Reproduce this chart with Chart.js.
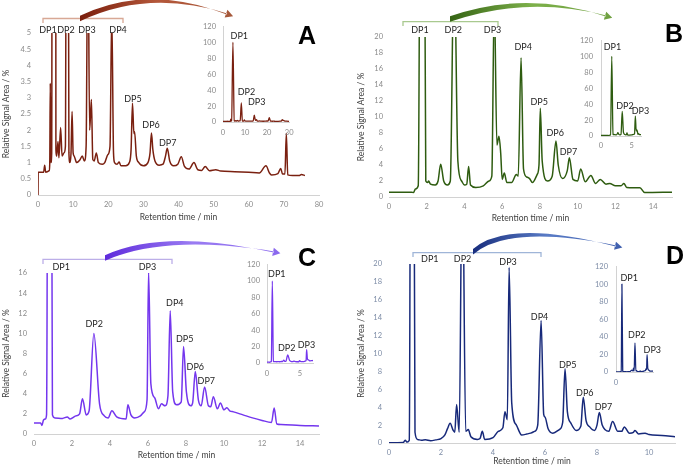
<!DOCTYPE html>
<html><head><meta charset="utf-8">
<script src="https://cdn.jsdelivr.net/npm/chart.js@4.4.1/dist/chart.umd.min.js"></script>
<style>
html,body{margin:0;padding:0;background:#fff;}
#wrap{position:relative;width:687px;height:469px;overflow:hidden;background:#fff;}
#wrap canvas{position:absolute;}
#wrap svg{position:absolute;left:0;top:0;}
</style></head><body>
<div id="wrap"></div>
<script>
// ---------- DATA (retention time / min, relative signal area / %) ----------
const timeA   = [0,0.05,1.6,1.9,2.2,3.2,3.35,3.5,3.65,3.9,4.5,5.1,5.3,5.7,5.95,6.45,6.85,7.4,7.8,8.3,8.8,9.1,9.4,9.7,10.0,10.3,11.0,11.9,12.6,13.2,13.7,14.2,14.7,15.2,15.6,16.0,16.6,17.2,18.3,19.0,19.9,20.5,21.0,21.5,21.8,22.5,23.1,23.6,25.0,26.0,26.5,26.9,27.3,27.5,28.0,28.7,30.0,31.3,31.9,32.3,32.7,33.3,34.5,35.6,36.3,36.8,37.5,38.6,39.8,40.8,41.7,43.0,44.4,45.5,46.6,47.6,48.8,50.6,52.0,56.0,60.0,63.0,64.9,65.9,66.5,68.3,69.1,69.6,70.3,70.7,71.1,72.5,74.3,75.0,76.0];
const signalA = [0,0.7,0.7,0.92,0.7,0.75,1.0,3.45,1.0,1.3,100,1.4,1.2,1.65,1.15,2.08,1.2,1.3,1.5,24,1.3,1.0,1.3,2.58,1.3,1.2,1.0,1.08,1.2,1.05,1.5,8.5,2.0,2.95,1.1,1.05,1.3,1.0,0.95,1.0,1.25,1.5,5.6,1.3,1.0,0.95,1.02,0.9,0.9,1.0,1.4,2.83,1.9,1.95,1.2,1.0,0.9,1.0,1.3,1.91,1.4,1.05,0.92,0.95,1.2,1.44,1.05,0.9,0.95,1.18,0.88,0.8,1.0,0.78,0.76,0.88,0.75,0.78,0.74,0.72,0.7,0.68,0.9,0.68,0.62,0.66,0.82,0.65,0.65,1.9,0.62,0.6,0.6,0.63,0.6];

const timeB   = [0,1.2,1.3,1.4,1.55,1.75,1.95,2.05,2.1,2.2,2.45,2.6,2.74,2.9,3.1,3.25,3.45,3.65,3.85,4.0,4.12,4.22,4.32,4.6,5.0,5.3,5.45,5.58,5.72,5.83,5.92,6.0,6.11,6.25,6.5,6.75,6.85,7.0,7.13,7.3,7.45,7.6,7.85,7.95,8.02,8.12,8.4,8.65,8.85,8.97,9.2,9.45,9.56,9.75,10.0,10.16,10.4,10.7,10.95,11.2,11.5,11.7,12.0,12.3,12.45,12.6,13.3,13.55,15.0];
const signalB = [0.6,0.6,0.55,1.0,1.4,100,2.0,1.8,2.0,1.6,1.5,2.0,4.1,2.0,1.5,2.0,31,4.5,2.0,1.5,1.6,3.8,1.5,1.2,1.4,2.0,2.6,25,6.5,7.6,5.5,2.2,3.0,1.8,1.8,2.8,2.6,17.4,3.5,2.5,2.3,1.8,2.8,4.0,11.1,4.5,2.0,2.6,7.0,4.0,2.3,3.3,4.9,2.2,2.0,3.5,1.9,2.7,1.7,2.2,1.6,1.7,1.4,1.4,1.7,1.2,1.15,0.55,0.6];

const timeC   = [0,0.35,0.42,0.5,0.6,0.66,0.81,0.97,1.1,1.5,1.75,1.9,2.2,2.4,2.55,2.75,2.9,3.15,3.45,3.7,3.9,4.1,4.35,4.85,4.94,5.1,5.3,5.6,5.8,5.95,6.03,6.15,6.35,6.55,6.71,6.9,7.05,7.17,7.3,7.5,7.75,7.87,8.02,8.25,8.35,8.49,8.65,8.8,8.98,9.18,9.3,9.44,9.65,9.81,10.0,10.15,10.3,10.5,11.0,11.5,12.0,12.5,12.64,12.78,13.0,14.0,15.0];
const signalC = [1.1,1.1,0.85,1.4,1.5,1.9,100,1.9,1.6,1.55,1.7,1.5,1.8,2.0,3.5,1.9,2.3,10.0,3.0,1.8,1.6,2.3,1.7,1.5,2.9,1.9,1.6,1.8,2.2,3.4,16.2,5.0,3.6,2.5,3.0,2.8,3.8,12.25,4.2,2.9,3.2,8.7,4.2,2.8,3.1,6.2,3.4,2.8,4.67,2.8,2.7,3.7,2.5,3.08,2.4,2.6,2.3,2.2,1.9,1.6,1.35,1.15,2.58,1.0,0.95,0.85,0.8];

const timeD   = [0,0.55,0.62,0.7,0.78,0.88,1.0,1.1,1.25,1.4,1.6,1.8,2.0,2.15,2.25,2.35,2.47,2.53,2.6,2.7,2.82,2.95,3.05,3.15,3.4,3.5,3.59,3.68,4.0,4.2,4.38,4.46,4.55,4.62,4.72,4.9,5.1,5.3,5.45,5.6,5.72,5.85,5.95,6.0,6.12,6.3,6.55,6.68,6.77,6.86,7.0,7.2,7.38,7.47,7.58,7.72,7.9,8.0,8.09,8.2,8.45,8.6,8.8,8.95,9.05,9.25,9.4,9.46,9.6,9.85,10.0,10.5,11.0];
const signalD = [0.02,0.05,0.3,0.1,0.3,100,1.2,0.4,0.3,0.35,0.25,0.35,0.5,0.9,1.6,2.2,1.4,1.2,4.3,1.2,33,1.3,1.5,0.7,0.4,0.5,1.3,0.4,0.6,1.3,1.7,3.5,2.6,19.6,4.5,2.0,0.9,1.0,1.1,1.3,2.0,13.7,3.2,2.9,1.6,1.1,1.5,2.3,8.3,3.5,2.2,1.4,1.9,5.1,2.5,1.8,1.4,2.0,3.4,2.0,1.3,2.4,1.3,1.3,1.8,1.1,1.2,1.4,1.0,1.1,0.95,0.85,0.7];

// tick values
const xTicksA = [0,10,20,30,40,50,60,70,80];
const yTicksA = [0,0.5,1,1.5,2,2.5,3,3.5,4,4.5,5];
const xTicksB = [0,2,4,6,8,10,12,14];
const yTicksB = [0,2,4,6,8,10,12,14,16,18,20];
const xTicksC = [0,2,4,6,8,10,12,14];
const yTicksC = [0,2,4,6,8,10,12,14,16];
const xTicksD = [0,2,4,6,8,10];
const yTicksD = [0,2,4,6,8,10,12,14,16,18,20];
const insetYTicks = [0,20,40,60,80,100,120];
const insetXTicksA = [0,10,20,30];
const insetXTicksB = [0,5];
const insetXTicksC = [0,5];
const insetXTicksD = [0];

// peak labels: text, retention time, signal level of label centre
const labelsA = [['DP1',2.85,5.09],['DP2',7.97,5.09],['DP3',13.95,5.09],['DP4',22.8,5.09],['DP5',27.05,2.96],['DP6',32.2,2.15],['DP7',36.9,1.6]];
const insetLabelsA = [['DP1',7.4,108],['DP2',10.6,38],['DP3',15.3,25.5]];
const labelsB = [['DP1',1.64,20.9],['DP2',3.41,20.9],['DP3',5.49,20.9],['DP4',7.11,18.7],['DP5',7.96,11.9],['DP6',8.81,7.96],['DP7',9.51,5.6]];
const insetLabelsB = [['DP1',1.85,112],['DP2',3.9,37.2],['DP3',6.4,31.2]];
const labelsC = [['DP1',1.43,16.57],['DP2',3.17,10.93],['DP3',5.97,16.57],['DP4',7.41,13.05],['DP5',7.93,9.44],['DP6',8.49,6.69],['DP7',9.07,5.3]];
const insetLabelsC = [['DP1',1.49,108.6],['DP2',3.0,17.6],['DP3',6.0,22.4]];
const labelsD = [['DP1',1.57,20.52],['DP2',2.83,20.52],['DP3',4.58,20.19],['DP4',5.79,14.04],['DP5',6.87,8.72],['DP6',7.53,5.62],['DP7',8.25,4.06]];
const insetLabelsD = [['DP1',1.97,106.5],['DP2',3.09,42.2],['DP3',5.4,25.1]];

// ---------- LAYOUT ----------
const FONT = 'Lato, "Open Sans", sans-serif';
const panels = [
  {t:timeA, s:signalA, color:'#7a2010', tick:'#8a8a8a',
   main:{box:[0,0,340,232], area:[38,33,319,195], xMax:80, yMax:5, xT:xTicksA, yT:yTicksA, labels:labelsA, yTitleX:6, xTitleY:217, yPad:7, xPad:5},
   inset:{box:[195,15,105,127], area:[223,23,290,122], xMax:30, yMax:120, xT:insetXTicksA, yT:insetYTicks, labels:insetLabelsA, yPad:7, xPad:6.5}},
  {t:timeB, s:signalB, color:'#2e5c10', tick:'#8a8a8a',
   main:{box:[340,0,347,232], area:[389,37,672,197], xMax:15, yMax:20, xT:xTicksB, yT:yTicksB, labels:labelsB, yTitleX:361, xTitleY:218, yPad:6, xPad:5.5},
   inset:{box:[570,28,90,125], area:[601,36,641,136], xMax:6.5, yMax:120, xT:insetXTicksB, yT:insetYTicks, labels:insetLabelsB, yPad:8, xPad:5.5}},
  {t:timeC, s:signalC, color:'#7436ee', tick:'#8a8a8a',
   main:{box:[0,232,340,237], area:[34,273,319,434], xMax:15, yMax:16, xT:xTicksC, yT:yTicksC, labels:labelsC, yTitleX:6, xTitleY:455, yPad:7, xPad:5.5},
   inset:{box:[235,253,90,128], area:[267,261,313,363], xMax:7, yMax:120, xT:insetXTicksC, yT:insetYTicks, labels:insetLabelsC, yPad:7, xPad:6.5}},
  {t:timeD, s:signalD, color:'#17297a', tick:'#7d8ca6',
   main:{box:[340,232,347,237], area:[389,264,675,443], xMax:11, yMax:20, xT:xTicksD, yT:yTicksD, labels:labelsD, yTitleX:361, xTitleY:461, yPad:7, xPad:5.5},
   inset:{box:[585,254,85,136], area:[616,262,653,372], xMax:5.5, yMax:120, xT:insetXTicksD, yT:insetYTicks, labels:insetLabelsD, yPad:8, xPad:6.5}}
];

const wrap = document.getElementById('wrap');

function labelPlugin(labels){
  return {id:'dpLabels', afterDatasetsDraw(chart){
    const ctx = chart.ctx, xs = chart.scales.x, ys = chart.scales.y;
    ctx.save();
    ctx.font = '9px ' + FONT;
    ctx.fillStyle = '#1e1e1e';
    ctx.textAlign = 'center';
    ctx.textBaseline = 'middle';
    for (const [txt,x,y] of labels) ctx.fillText(txt, xs.getPixelForValue(x), ys.getPixelForValue(y));
    ctx.restore();
  }};
}

function makeChart(p, c, inset){
  const [bl,bt,bw,bh] = c.box, [al,at,ar,ab] = c.area;
  const cv = document.createElement('canvas');
  cv.width = bw; cv.height = bh;
  cv.style.left = bl+'px'; cv.style.top = bt+'px';
  wrap.appendChild(cv);
  const yW = al-bl, xH = bt+bh-ab;
  const tickFont = {family:FONT, size:7.5};
  const titleFont = {family:FONT, size:8.5, lineHeight:1.2};
  const lh = 8.5*1.2;
  const x = {type:'linear', min:0, max:c.xMax,
    afterBuildTicks: sc => { sc.ticks = c.xT.map(v => ({value:v})); },
    afterFit: sc => { sc.height = xH; },
    grid:{display:false, drawTicks:false},
    border:{display:true, color:'#d2d2d2', width:1},
    ticks:{font:tickFont, color:p.tick, padding:c.xPad, maxRotation:0, autoSkip:false, callback:v => String(v)}};
  const y = {type:'linear', min:0, max:c.yMax,
    afterBuildTicks: sc => { sc.ticks = c.yT.map(v => ({value:v})); },
    afterFit: sc => { sc.width = yW; },
    grid:{display:false, drawTicks:false},
    border:{display:inset, color:'#d2d2d2', width:1},
    ticks:{font:tickFont, color:p.tick, padding:c.yPad, autoSkip:false, callback:v => String(v)}};
  if (!inset){
    x.title = {display:true, text:'Retention time / min', font:titleFont, color:'#404040', padding:{top:0, bottom:(bt+bh-c.xTitleY)-lh/2}};
    y.title = {display:true, text:'Relative Signal Area / %', font:titleFont, color:'#404040', padding:{top:(c.yTitleX-bl)-lh/2, bottom:0}};
  }
  new Chart(cv, {
    type:'line',
    data:{datasets:[{data:p.t.map((v,i)=>({x:v, y:p.s[i]})), borderColor:p.color, borderWidth: inset?1.3:1.5,
      pointRadius:0, fill:false, cubicInterpolationMode:'monotone', borderJoinStyle:'round'}]},
    options:{responsive:false, animation:false, devicePixelRatio:1,
      layout:{padding:{top:at-bt, right:bl+bw-ar, bottom:0, left:0}},
      plugins:{legend:{display:false}, tooltip:{enabled:false}},
      scales:{x, y}},
    plugins:[labelPlugin(c.labels)]
  });
}

for (const p of panels){ makeChart(p, p.main, false); makeChart(p, p.inset, true); }

// ---------- ANNOTATIONS (brackets, arrows, panel letters) ----------
const NS = 'http://www.w3.org/2000/svg';
const svg = document.createElementNS(NS,'svg');
svg.setAttribute('width',687); svg.setAttribute('height',469);
wrap.appendChild(svg);
const defs = document.createElementNS(NS,'defs'); svg.appendChild(defs);

const notes = [
  {bracket:[43,123,18.5,23], arrow:[80,18.5,148,-14,227,14], cols:['#7a1e0c','#b4573a','#a5583a'], bcol:'#d8a895', letter:['A',307,35]},
  {bracket:[403,498,21.7,26], arrow:[450,19,526,-7.5,606,16], cols:['#356414','#7db04a','#6fa040'], bcol:'#a9c98f', letter:['B',674,33]},
  {bracket:[43,172,259.3,264], arrow:[105,258,164.5,231,274,252], cols:['#5f2bdc','#9a7cf2','#8a68ee'], bcol:'#bcaee8', letter:['C',307,257]},
  {bracket:[413,541,252.7,257], arrow:[473,251.7,508.7,221,616,246], cols:['#182e7e','#5a7cc6','#3f5fae'], bcol:'#9fb5d8', letter:['D',675,255]}
];
notes.forEach((n,i)=>{
  const [x1,x2,yb,yt] = n.bracket;
  const br = document.createElementNS(NS,'path');
  br.setAttribute('d',`M${x1},${yt} L${x1},${yb} L${x2},${yb} L${x2},${yt}`);
  br.setAttribute('fill','none'); br.setAttribute('stroke',n.bcol); br.setAttribute('stroke-width','1.3');
  svg.appendChild(br);

  const g = document.createElementNS(NS,'linearGradient');
  g.setAttribute('id','g'+i); g.setAttribute('x1','0'); g.setAttribute('x2','1'); g.setAttribute('y1','0'); g.setAttribute('y2','0');
  n.cols.forEach((c,k)=>{ const st=document.createElementNS(NS,'stop'); st.setAttribute('offset',k/2); st.setAttribute('stop-color',c); g.appendChild(st); });
  defs.appendChild(g);

  const [ax0,ay0,cx,cy,ax1,ay1] = n.arrow, w0 = 5.5;
  let dx = ax1-cx, dy = ay1-cy; const L = Math.hypot(dx,dy); dx/=L; dy/=L;
  const nx = -dy, ny = dx;
  const tip = [ax1+dx*6.5, ay1+dy*6.5];
  const b1 = [ax1-dx*1+nx*4.2, ay1-dy*1+ny*4.2], b2 = [ax1-dx*1-nx*4.2, ay1-dy*1-ny*4.2];
  const body = `M${ax0},${ay0-w0/2} Q${cx},${cy-w0/2} ${ax1+nx*0.6},${ay1+ny*0.6} L${ax1-nx*0.6},${ay1-ny*0.6} Q${cx},${cy+w0/2} ${ax0},${ay0+w0/2} Z`;
  const head = `M${tip[0]},${tip[1]} L${b1[0]},${b1[1]} L${b2[0]},${b2[1]} Z`;
  const ar = document.createElementNS(NS,'path');
  ar.setAttribute('d', body+' '+head); ar.setAttribute('fill',`url(#g${i})`);
  svg.appendChild(ar);

  const t = document.createElementNS(NS,'text');
  t.textContent = n.letter[0];
  t.setAttribute('x',n.letter[1]); t.setAttribute('y',n.letter[2]);
  t.setAttribute('text-anchor','middle'); t.setAttribute('dominant-baseline','central');
  t.setAttribute('font-family','"Liberation Sans", Arial, sans-serif'); t.setAttribute('font-weight','bold');
  t.setAttribute('font-size','25'); t.setAttribute('fill','#000');
  svg.appendChild(t);
});
</script></body></html>
